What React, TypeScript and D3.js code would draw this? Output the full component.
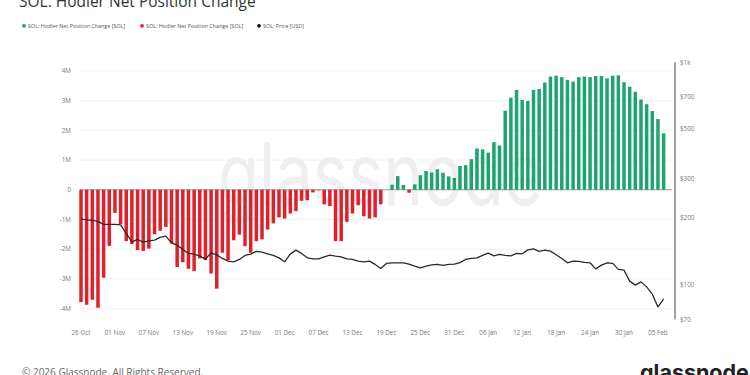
import React from 'react';
import * as d3 from 'd3';

const startDateUtc = Date.UTC(2025, 9, 26);
const DAY = 864e5;

// Hodler net position change, in millions of SOL (daily)
const netChangeM: number[] = [
  -3.78, -3.87, -3.70, -3.97, -2.96, -1.89, -0.78, -1.16, -1.73, -1.83,
  -2.03, -2.06, -1.98, -1.50, -1.38, -1.25, -1.81, -2.60, -2.44, -2.66,
  -2.74, -2.31, -2.37, -2.82, -3.33, -2.12, -2.37, -1.70, -1.51, -1.90,
  -2.12, -1.73, -1.67, -1.34, -1.13, -0.93, -0.97, -0.80, -0.72, -0.37,
  -0.35, -0.09, -0.02, -0.49, -0.55, -1.73, -1.73, -1.08, -0.80, -0.52,
  -0.89, -0.97, -0.93, -0.49, 0.0, 0.17, 0.46, 0.16, -0.10, 0.18,
  0.49, 0.63, 0.58, 0.69, 0.57, 0.45, 0.40, 0.80, 0.83, 1.03,
  1.39, 1.36, 1.25, 1.60, 1.49, 2.66, 3.10, 3.36, 3.02, 2.99,
  3.36, 3.39, 3.61, 3.81, 3.84, 3.79, 3.70, 3.64, 3.79, 3.81,
  3.79, 3.83, 3.83, 3.75, 3.84, 3.85, 3.62, 3.47, 3.30, 3.04,
  2.88, 2.65, 2.38, 1.90,
];

// SOL price in USD (daily)
const priceUsd: number[] = [
  197.3, 195.9, 194.7, 192.7, 186.8, 186.8, 186.8, 186.0, 170.2, 156.0,
  159.9, 155.5, 157.6, 158.8, 163.3, 165.5, 154.4, 150.8, 144.2, 138.4,
  137.4, 134.6, 130.4, 139.2, 136.4, 131.4, 127.8, 126.9, 130.0, 135.5,
  137.4, 141.3, 140.3, 137.8, 135.5, 132.2, 126.9, 137.4, 143.2, 138.4,
  132.2, 130.9, 130.9, 133.6, 135.9, 134.6, 133.6, 130.9, 130.0, 127.8,
  126.9, 127.8, 123.5, 118.5, 124.8, 125.6, 125.6, 125.6, 123.9, 121.3,
  119.2, 121.3, 123.0, 123.5, 122.2, 123.5, 124.0, 125.8, 130.0, 131.4,
  132.2, 135.5, 138.8, 135.0, 137.0, 135.5, 135.0, 138.4, 137.8, 143.6,
  145.1, 141.3, 143.2, 141.7, 136.4, 131.4, 125.6, 127.8, 127.4, 126.1,
  125.6, 118.0, 122.6, 125.6, 124.8, 117.3, 116.4, 103.9, 99.7, 103.1,
  97.9, 90.8, 79.6, 86.5,
];

const leftTicks = [-4, -3, -2, -1, 0, 1, 2, 3, 4];
const rightTicks = [70, 100, 200, 300, 500, 700, 1000];
const rightTickLabels = ['$70', '$100', '$200', '$300', '$500', '$700', '$1k'];
const xTickLabels = [
  '26 Oct', '01 Nov', '07 Nov', '13 Nov', '19 Nov', '25 Nov', '01 Dec', '07 Dec', '13 Dec',
  '19 Dec', '25 Dec', '31 Dec', '06 Jan', '12 Jan', '18 Jan', '24 Jan', '30 Jan', '05 Feb',
];
const legendLabels = [
  'SOL: Hodler Net Position Change [SOL]',
  'SOL: Hodler Net Position Change [SOL]',
  'SOL: Price [USD]',
];

const GREEN = '#1fa370';
const RED = '#e0202b';
const FONT = "'Open Sans', 'Noto Sans', sans-serif";

export default function App() {
  const W = 750;
  const H = 375;
  const dates = netChangeM.map((_, i) => new Date(startDateUtc + i * DAY));
  const x = d3.scaleUtc().domain([dates[0], dates[dates.length - 1]]).range([81, 663.6]);
  const yL = d3.scaleLinear().domain([-4.36, 4.29]).range([319.3, 62.3]);
  const yR = d3.scaleLog().domain([70, 1000]).range([319.3, 62.3]);
  const barW = 3.5;
  const line = d3
    .line<number>()
    .x((_, i) => x(dates[i]))
    .y((d) => yR(d))
    .curve(d3.curveLinear);
  const xTicks = xTickLabels.map((_, i) => new Date(startDateUtc + i * 6 * DAY));
  const legendX = [24, 142, 259];
  const legendColors = [GREEN, RED, '#111'];

  return (
    <svg
      width={W}
      height={H}
      style={{ position: 'absolute', left: 0, top: 0, background: '#fff' }}
      fontFamily={FONT}
    >
      <rect x={0} y={0} width={W} height={H} fill="#fff" />
      {/* title */}
      <text x={19} y={7} fontSize={15.5} fill="#333">SOL: Hodler Net Position Change</text>
      {/* legend */}
      {legendLabels.map((l, i) => (
        <g key={i}>
          <circle cx={legendX[i]} cy={25.8} r={1.9} fill={legendColors[i]} />
          <text x={legendX[i] + 4} y={27.7} fontSize={5.4} fill="#555">{l}</text>
        </g>
      ))}
      {/* watermark */}
      <text
        x={218}
        y={205}
        fontSize={86}
        fill="#efefef"
        textLength={325}
        lengthAdjust="spacingAndGlyphs"
        fontFamily="Inter, 'Open Sans', sans-serif"
      >
        glassnode
      </text>
      {/* grid */}
      {leftTicks.map((t) => (
        <line
          key={t}
          x1={80}
          x2={672}
          y1={yL(t)}
          y2={yL(t)}
          stroke={t === 0 ? '#9a9a9a' : '#ececec'}
          strokeWidth={t === 0 ? 1 : 0.8}
        />
      ))}
      {/* bars */}
      {netChangeM.map((v, i) =>
        v === 0 ? null : (
          <rect
            key={i}
            x={x(dates[i]) - barW / 2}
            y={v > 0 ? yL(v) : yL(0)}
            width={barW}
            height={Math.abs(yL(v) - yL(0))}
            fill={v > 0 ? GREEN : RED}
          />
        )
      )}
      {/* price line */}
      <path d={line(priceUsd) || ''} fill="none" stroke="#2a2a2a" strokeWidth={1.3} strokeLinejoin="round" />
      {/* left axis labels */}
      {leftTicks.map((t) => (
        <text key={t} x={71} y={yL(t) + 2.2} fontSize={6.3} fill="#777" textAnchor="end">
          {t === 0 ? '0' : `${t}M`}
        </text>
      ))}
      {/* right axis */}
      <line x1={675} x2={675} y1={yR(1000)} y2={yR(70)} stroke="#444" strokeWidth={1} />
      {rightTicks.map((t, i) => (
        <text key={t} x={680} y={yR(t) + 2.2} fontSize={6.3} fill="#777">
          {rightTickLabels[i]}
        </text>
      ))}
      {/* x axis labels */}
      {xTicks.map((d, i) => (
        <text key={i} x={x(d)} y={335} fontSize={6.3} fill="#777" textAnchor="middle">
          {xTickLabels[i]}
        </text>
      ))}
      {/* footer */}
      <text x={22} y={376} fontSize={10} fill="#666">© 2026 Glassnode. All Rights Reserved.</text>
      <text x={640} y={380} fontSize={21.5} fontWeight={700} fill="#222" fontFamily="Inter, sans-serif">glassnode</text>
    </svg>
  );
}
